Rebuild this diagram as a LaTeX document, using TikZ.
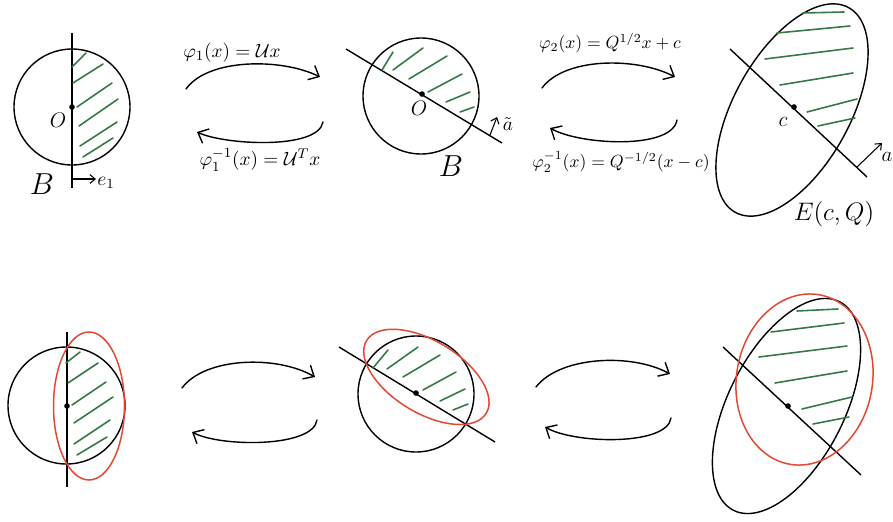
\documentclass[tikz,border=0pt]{standalone}
\usetikzlibrary{arrows.meta}
\definecolor{hatchgreen}{RGB}{52,120,68}
\definecolor{sketchred}{RGB}{226,72,52}
\begin{document}
\begin{tikzpicture}[x=0.02cm,y=-0.02cm,
  outline/.style={line width=0.8pt, black},
  hatch/.style={line width=0.9pt, hatchgreen, line cap=round},
  redell/.style={line width=0.85pt, sketchred},
  bigarrow/.style={line width=0.8pt, line cap=round, -{Straight Barb[length=5pt,width=9pt,line width=0.8pt]}},
  smallarrow/.style={line width=0.6pt, -{Straight Barb[length=3pt,width=5pt]}},
  maplabel/.style={font=\fontsize{11}{13}\selectfont, inner sep=0pt},
  maplabelr/.style={font=\fontsize{10.3}{12}\selectfont, inner sep=0pt},
  biglabel/.style={font=\fontsize{17.5}{20}\selectfont, inner sep=0pt},
  midlabel/.style={font=\fontsize{12}{14}\selectfont, inner sep=0pt},
  dot/.style={circle, fill=black, inner sep=0pt, minimum size=3.2pt}]
\useasboundingbox (0,0) rectangle (893,521);

% ================= TOP ROW =================
% --- top-left ball
\draw[outline] (72,107) circle [radius=58];
\coordinate (tlA) at (72,33);
\coordinate (tlB) at (72,188);
\draw[outline] (tlA) -- (tlB);
\node[dot] (tlO) at (72,107) {};
\draw[hatch] (72,67) -- (86,53);
\draw[hatch] (73,83) -- (103,64);
\draw[hatch] (77,107) -- (112,83);
\draw[hatch] (79,126) -- (118,99);
\draw[hatch] (80,146) -- (117,122);
\draw[hatch] (83,157) -- (113,138);
\node[midlabel] (tlOl) at (58,120) {$O$};
\node[biglabel] (tlBl) at (42,184) {$B$};
\coordinate (e1s) at (73,179);
\coordinate (e1e) at (96,179);
\draw[smallarrow] (e1s) -- (e1e);
\node[maplabel] (e1l) at (106,183) {$e_1$};

% --- arrows between top-left and top-middle
\coordinate (a1s) at (186,89);
\coordinate (a1e) at (320,77);
\draw[bigarrow] (a1s) .. controls (208,58) and (282,58) .. (a1e);
\coordinate (a2s) at (323,122);
\coordinate (a2e) at (197,132);
\draw[bigarrow] (a2s) .. controls (318,150) and (225,145) .. (a2e);
\node[maplabel] (m1) at (232,53) {$\varphi_1(x) = \mathcal{U}x$};
\node[maplabel] (m1i) at (260,160) {$\varphi_1^{-1}(x) = \mathcal{U}^T x$};

% --- top-middle ball
\draw[outline] (421,96) circle [radius=58];
\coordinate (tmA) at (346,49);
\coordinate (tmB) at (502,143);
\draw[outline] (tmA) -- (tmB);
\node[dot] (tmO) at (422,94) {};
\draw[hatch] (382,70) -- (393,52);
\draw[hatch] (393,70) -- (423,48);
\draw[hatch] (409,79) -- (447,56);
\draw[hatch] (428,92) -- (462,74);
\draw[hatch] (446,102) -- (470,92);
\draw[hatch] (460,112) -- (474,107);
\node[midlabel] (tmOl) at (419,108) {$O$};
\node[biglabel] (tmBl) at (451,166) {$B$};
\coordinate (ats) at (490,135);
\coordinate (ate) at (497,117);
\draw[smallarrow] (ats) -- (ate);
\node[maplabel] (atl) at (508,124) {$\tilde{a}$};

% --- arrows between top-middle and top-right
\coordinate (a3s) at (542,88);
\coordinate (a3e) at (675,77);
\draw[bigarrow] (a3s) .. controls (565,57) and (637,57) .. (a3e);
\coordinate (a4s) at (677,120);
\coordinate (a4e) at (550,128);
\draw[bigarrow] (a4s) .. controls (672,150) and (580,145) .. (a4e);
\node[maplabelr] (m2) at (610,43) {$\varphi_2(x) = Q^{1/2}x + c$};
\node[maplabelr] (m2i) at (621,162) {$\varphi_2^{-1}(x) = Q^{-1/2}(x-c)$};

% --- top-right ellipse
\draw[outline, rotate around={-29:(792,110)}] (792,110) ellipse [x radius=58, y radius=117];
\coordinate (trA) at (730,49);
\coordinate (trB) at (867,177);
\draw[outline] (trA) -- (trB);
\node[dot] (trc) at (794,107) {};
\draw[hatch] (803,13) -- (844,12);
\draw[hatch] (777,33) -- (850,26);
\draw[hatch] (765,59) -- (853,48);
\draw[hatch] (780,85) -- (853,73);
\draw[hatch] (807,112) -- (857,99);
\draw[hatch] (818,126) -- (855,118);
\node[midlabel] (trcl) at (783,122) {$c$};
\coordinate (as) at (857,167);
\coordinate (ae) at (882,143);
\draw[smallarrow] (as) -- (ae);
\node[midlabel] (al) at (887,157) {$a$};
\node[font=\fontsize{14}{16}\selectfont, inner sep=0pt] (EcQ) at (834,214) {$E(c,Q)$};

% ================= BOTTOM ROW =================
% --- bottom-left
\draw[outline] (66.5,405.5) circle [radius=58.5];
\coordinate (blA) at (67,332);
\coordinate (blB) at (67,487);
\draw[outline] (blA) -- (blB);
\draw[redell] (89,406) ellipse [x radius=35.5, y radius=74];
\node[dot] (blO) at (67,406) {};
\draw[hatch] (66,363) -- (80,352);
\draw[hatch] (68,383) -- (98,363);
\draw[hatch] (72,405) -- (106,382);
\draw[hatch] (74,423) -- (113,397);
\draw[hatch] (74,444) -- (110,420);
\draw[hatch] (77,455) -- (107,437);

% --- arrows bottom-left to bottom-middle
\coordinate (b1s) at (182,388);
\coordinate (b1e) at (315,377);
\draw[bigarrow] (b1s) .. controls (205,357) and (277,355) .. (b1e);
\coordinate (b2s) at (317,420);
\coordinate (b2e) at (192,432);
\draw[bigarrow] (b2s) .. controls (313,448) and (220,447) .. (b2e);

% --- bottom-middle
\draw[outline] (416,394) circle [radius=58];
\coordinate (bmA) at (339,347);
\coordinate (bmB) at (495,442);
\draw[outline] (bmA) -- (bmB);
\draw[redell, rotate around={-31.3:(426.4,376.9)}] (426.4,376.9) ellipse [x radius=70, y radius=36];
\node[dot] (bmO) at (416,393) {};
\draw[hatch] (373,368) -- (388,350);
\draw[hatch] (387,369) -- (418,347);
\draw[hatch] (403,377) -- (440,355);
\draw[hatch] (423,390) -- (456,372);
\draw[hatch] (440,401) -- (465,389);
\draw[hatch] (453,410) -- (468,404);

% --- arrows bottom-middle to bottom-right
\coordinate (b3s) at (536,387);
\coordinate (b3e) at (670,374);
\draw[bigarrow] (b3s) .. controls (560,356) and (632,353) .. (b3e);
\coordinate (b4s) at (671,418);
\coordinate (b4e) at (545,427);
\draw[bigarrow] (b4s) .. controls (667,446) and (575,444) .. (b4e);

% --- bottom-right
\draw[outline, rotate around={-27:(786.5,406)}] (786.5,406) ellipse [x radius=58, y radius=117];
\coordinate (brA) at (723,347);
\coordinate (brB) at (861,475);
\draw[outline] (brA) -- (brB);
\draw[redell, rotate around={-9.8:(804.5,379.5)}] (804.5,379.5) ellipse [x radius=68, y radius=86];
\node[dot] (brc) at (788,406) {};
\draw[hatch] (797,311) -- (838,309);
\draw[hatch] (771,332) -- (844,323);
\draw[hatch] (759,357) -- (847,346);
\draw[hatch] (775,383) -- (847,371);
\draw[hatch] (802,409) -- (852,397);
\draw[hatch] (813,424) -- (849,417);
\end{tikzpicture}
\end{document}
